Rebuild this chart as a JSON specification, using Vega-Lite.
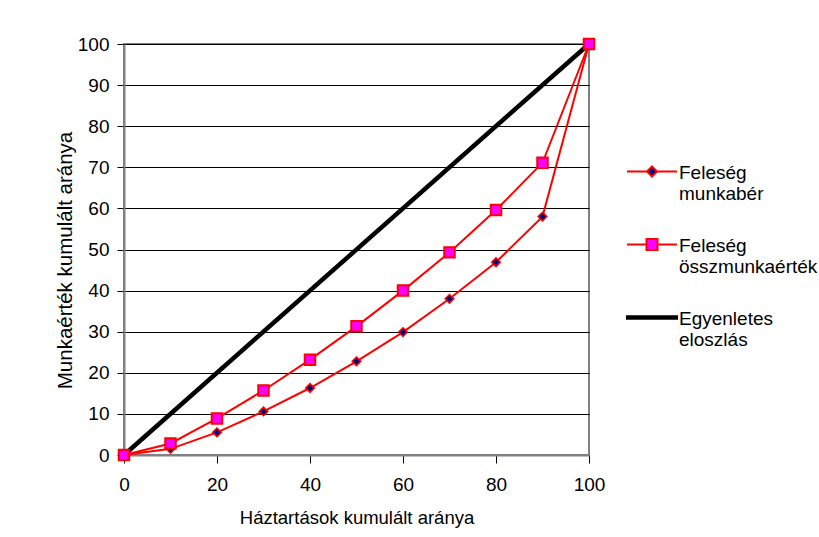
{
  "$schema": "https://vega.github.io/schema/vega-lite/v6.json",
  "width": 465,
  "height": 411,
  "autosize": {"type": "none"},
  "padding": {"left": 124, "top": 44, "right": 230, "bottom": 82},
  "background": "white",
  "config": {
    "font": "Liberation Sans",
    "view": {"stroke": "#808080", "strokeWidth": 2},
    "axis": {
      "labelFont": "Liberation Sans",
      "labelFontSize": 19,
      "labelColor": "black",
      "labelFlush": false,
      "titleFont": "Liberation Sans",
      "titleFontWeight": "normal",
      "titleColor": "black",
      "titleFontSize": 18.5,
      "tickColor": "black",
      "domainColor": "#808080",
      "domainWidth": 2,
      "gridColor": "black",
      "gridOpacity": 1,
      "gridWidth": 1
    }
  },
  "data": {
    "values": [
      {"x": 0, "y": 0, "series": "Feleség munkabér"},
      {"x": 10, "y": 1.5, "series": "Feleség munkabér"},
      {"x": 20, "y": 5.5, "series": "Feleség munkabér"},
      {"x": 30, "y": 10.6, "series": "Feleség munkabér"},
      {"x": 40, "y": 16.3, "series": "Feleség munkabér"},
      {"x": 50, "y": 22.8, "series": "Feleség munkabér"},
      {"x": 60, "y": 29.9, "series": "Feleség munkabér"},
      {"x": 70, "y": 38.0, "series": "Feleség munkabér"},
      {"x": 80, "y": 46.9, "series": "Feleség munkabér"},
      {"x": 90, "y": 58.0, "series": "Feleség munkabér"},
      {"x": 100, "y": 100, "series": "Feleség munkabér"},
      {"x": 0, "y": 0, "series": "Feleség összmunkaérték"},
      {"x": 10, "y": 2.8, "series": "Feleség összmunkaérték"},
      {"x": 20, "y": 8.9, "series": "Feleség összmunkaérték"},
      {"x": 30, "y": 15.7, "series": "Feleség összmunkaérték"},
      {"x": 40, "y": 23.2, "series": "Feleség összmunkaérték"},
      {"x": 50, "y": 31.3, "series": "Feleség összmunkaérték"},
      {"x": 60, "y": 40.0, "series": "Feleség összmunkaérték"},
      {"x": 70, "y": 49.3, "series": "Feleség összmunkaérték"},
      {"x": 80, "y": 59.6, "series": "Feleség összmunkaérték"},
      {"x": 90, "y": 71.1, "series": "Feleség összmunkaérték"},
      {"x": 100, "y": 100, "series": "Feleség összmunkaérték"},
      {"x": 0, "y": 0, "series": "Egyenletes eloszlás"},
      {"x": 100, "y": 100, "series": "Egyenletes eloszlás"}
    ]
  },
  "encoding": {
    "x": {
      "field": "x",
      "type": "quantitative",
      "scale": {"domain": [0, 100], "nice": false},
      "axis": {
        "values": [0, 20, 40, 60, 80, 100],
        "grid": false,
        "tickSize": 8,
        "labelPadding": 12,
        "title": "Háztartások kumulált aránya",
        "titlePadding": 14
      }
    },
    "y": {
      "field": "y",
      "type": "quantitative",
      "scale": {"domain": [0, 100], "nice": false},
      "axis": {
        "values": [0, 10, 20, 30, 40, 50, 60, 70, 80, 90, 100],
        "tickSize": 7,
        "labelPadding": 8,
        "title": "Munkaérték kumulált aránya",
        "titleFontSize": 20.5,
        "titlePadding": 2,
        "titleY": 216
      }
    }
  },
  "layer": [
    {
      "transform": [{"filter": "datum.series === 'Egyenletes eloszlás'"}],
      "mark": {"type": "line", "color": "black", "strokeWidth": 4.5},
      "encoding": {}
    },
    {
      "transform": [{"filter": "datum.series !== 'Egyenletes eloszlás'"}],
      "mark": {"type": "line", "color": "#FF0000", "strokeWidth": 2},
      "encoding": {"detail": {"field": "series"}}
    },
    {
      "transform": [{"filter": "datum.series === 'Feleség munkabér'"}],
      "mark": {"type": "point", "shape": "diamond", "size": 75, "filled": true, "fill": "#000080", "stroke": "#FF0000", "strokeWidth": 1.5, "opacity": 1},
      "encoding": {}
    },
    {
      "transform": [{"filter": "datum.series === 'Feleség összmunkaérték'"}],
      "mark": {"type": "point", "shape": "square", "size": 110, "filled": true, "fill": "#FF00FF", "stroke": "#FF0000", "strokeWidth": 2, "opacity": 1},
      "encoding": {}
    },
    {
      "mark": {"type": "point", "filled": true, "opacity": 0},
      "encoding": {
        "shape": {
          "field": "series",
          "type": "nominal",
          "scale": {
            "domain": ["Feleség munkabér", "Feleség összmunkaérték", "Egyenletes eloszlás"],
            "range": [
              "M-1,0.3H-0.2M0.2,0.3H1M0,0.1L0.2,0.3L0,0.5L-0.2,0.3Z",
              "M-1,0.3H-0.22M0.22,0.3H1M-0.22,0.08H0.22V0.52H-0.22Z",
              "M-1,0.25H1V0.35H-1Z"
            ]
          },
          "legend": {
            "orient": "none",
            "legendX": 502,
            "legendY": 94,
            "title": null,
            "padding": 0,
            "symbolSize": 2500,
            "symbolStrokeWidth": 2,
            "symbolOpacity": 1,
            "labelFont": "Liberation Sans",
            "labelFontSize": 19,
            "labelColor": "black",
            "labelLimit": 0,
            "labelBaseline": "top",
            "labelOffset": 1,
            "rowPadding": 7,
            "labelExpr": "split(datum.label, ' ')"
          }
        },
        "fill": {
          "field": "series",
          "type": "nominal",
          "scale": {
            "domain": ["Feleség munkabér", "Feleség összmunkaérték", "Egyenletes eloszlás"],
            "range": ["#000080", "#FF00FF", "black"]
          }
        },
        "stroke": {
          "field": "series",
          "type": "nominal",
          "scale": {
            "domain": ["Feleség munkabér", "Feleség összmunkaérték", "Egyenletes eloszlás"],
            "range": ["#FF0000", "#FF0000", "black"]
          }
        }
      }
    }
  ]
}
